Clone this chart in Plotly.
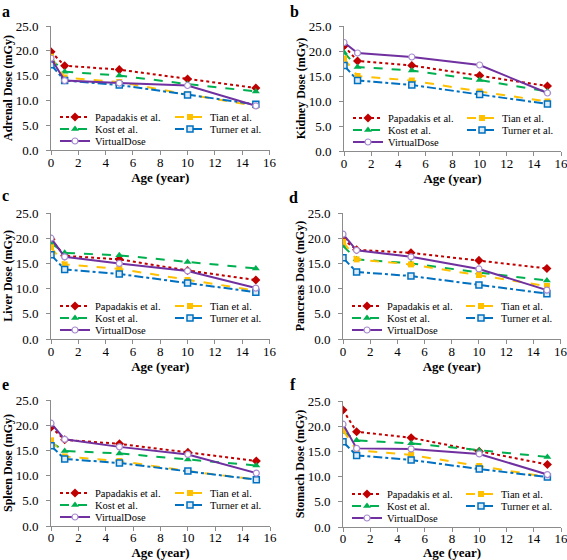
import plotly.graph_objects as go

ages = [0, 1, 5, 10, 15]

organs = ["Adrenal", "Kidney", "Liver", "Pancreas", "Spleen", "Stomach"]
panel_letters = ["a", "b", "c", "d", "e", "f"]

papadakis = {
    "Adrenal":  [19.8, 17.0, 16.2, 14.3, 12.5],
    "Kidney":   [21.0, 18.0, 17.1, 15.1, 13.0],
    "Liver":    [19.8, 16.5, 15.8, 13.6, 11.7],
    "Pancreas": [19.8, 17.7, 17.1, 15.6, 14.0],
    "Spleen":   [19.6, 17.1, 16.3, 14.6, 12.9],
    "Stomach":  [23.2, 18.9, 17.7, 15.0, 12.4],
}
kost = {
    "Adrenal":  [18.3, 15.8, 15.0, 13.3, 11.8],
    "Kidney":   [19.7, 16.8, 16.1, 14.2, 11.9],
    "Liver":    [19.0, 17.1, 16.6, 15.3, 14.0],
    "Pancreas": [18.5, 15.8, 15.0, 13.2, 11.6],
    "Spleen":   [16.6, 14.9, 14.4, 13.2, 12.0],
    "Stomach":  [18.9, 17.2, 16.6, 15.2, 13.9],
}
tian = {
    "Adrenal":  [18.8, 14.6, 13.7, 11.2, 8.9],
    "Kidney":   [18.5, 15.0, 14.1, 11.9, 9.9],
    "Liver":    [18.2, 14.8, 13.9, 11.7, 9.6],
    "Pancreas": [19.3, 15.8, 14.8, 12.7, 10.5],
    "Spleen":   [17.0, 13.8, 12.9, 10.9, 9.2],
    "Stomach":  [19.2, 15.2, 14.3, 12.1, 9.9],
}
turner = {
    "Adrenal":  [17.2, 14.0, 13.1, 11.1, 9.2],
    "Kidney":   [17.1, 14.1, 13.2, 11.3, 9.4],
    "Liver":    [16.7, 13.8, 12.9, 11.1, 9.3],
    "Pancreas": [16.1, 13.3, 12.5, 10.7, 9.0],
    "Spleen":   [15.9, 13.3, 12.5, 10.9, 9.2],
    "Stomach":  [16.9, 14.2, 13.3, 11.5, 9.9],
}
virtualdose = {
    "Adrenal":  [18.5, 14.0, 13.5, 13.0, 8.9],
    "Kidney":   [21.7, 19.6, 18.8, 17.2, 11.6],
    "Liver":    [20.0, 16.3, 15.0, 13.5, 10.1],
    "Pancreas": [20.8, 17.6, 16.3, 13.9, 9.7],
    "Spleen":   [20.4, 17.2, 15.7, 14.2, 10.5],
    "Stomach":  [20.4, 15.6, 15.5, 14.5, 10.4],
}

x_ticks = [0, 2, 4, 6, 8, 10, 12, 14, 16]
y_ticks = [0, 5, 10, 15, 20, 25]
y_tick_labels = ["0.0", "5.0", "10.0", "15.0", "20.0", "25.0"]

W, H = 567, 560
# pixel boxes of each plot area: (left, right, top, bottom)
boxes = [
    (51, 269.5, 26, 150),
    (344, 561, 26, 151),
    (51, 269.5, 213, 339),
    (343, 560.5, 213, 339),
    (51, 270, 400, 526),
    (343, 561, 401, 527),
]
# panel letter positions (left x, vertical centre y) in pixels
letter_pos = [(1, 11), (289, 11), (1, 195), (288, 197), (1, 384), (289, 384)]

SERIF = "Liberation Serif, Times New Roman, serif"

# name, data, line, marker, legend column, legend row
series = [
    ("Papadakis et al.", papadakis, dict(color="#C00000", dash="dot", width=2),
     dict(symbol="diamond", size=7, color="#C00000"), 0, 0),
    ("Kost et al.", kost, dict(color="#00B050", dash="dash", width=2),
     dict(symbol="triangle-up", size=7, color="#00B050"), 0, 1),
    ("Tian et al.", tian, dict(color="#FFC000", dash="dash", width=2),
     dict(symbol="square", size=6, color="#FFC000"), 1, 0),
    ("Turner et al.", turner, dict(color="#0070C0", dash="dashdot", width=2),
     dict(symbol="square", size=6, color="#DDEBF7", line=dict(color="#0070C0", width=1.5)), 1, 1),
    ("VirtualDose", virtualdose, dict(color="#7030A0", dash="solid", width=2),
     dict(symbol="circle", size=6, color="white", line=dict(color="#A88BD0", width=1.2)), 0, 2),
]
row_offsets = [33, 21, 9]      # px above plot bottom
col_offsets = [[4, 119], [4, 118]]  # px right of plot left (left / right column panels)

fig = go.Figure()
layout = dict(
    width=W, height=H, margin=dict(l=0, r=0, t=0, b=0, autoexpand=False),
    paper_bgcolor="white", plot_bgcolor="white", showlegend=True,
    font=dict(family=SERIF, color="black"),
    annotations=[],
)

leg_idx = 0
for i, organ in enumerate(organs):
    l, r, t, b = boxes[i]
    n = i + 1
    xa = "x" if n == 1 else f"x{n}"
    ya = "y" if n == 1 else f"y{n}"
    for name, data, line, marker, col, row in series:
        leg_idx += 1
        leg = "legend" if leg_idx == 1 else f"legend{leg_idx}"
        fig.add_trace(go.Scatter(
            x=ages, y=data[organ], name=name, mode="lines+markers",
            line=line, marker=marker, xaxis=xa, yaxis=ya, legend=leg,
        ))
        layout[leg] = dict(
            orientation="v", xanchor="left", yanchor="middle",
            x=(l + col_offsets[i % 2][col]) / W,
            y=1 - (b - row_offsets[row]) / H,
            bgcolor="rgba(0,0,0,0)", borderwidth=0,
            font=dict(family=SERIF, size=10.5, color="black"),
            itemclick=False, itemdoubleclick=False,
        )
    layout[f"xaxis{n if n > 1 else ''}"] = dict(
        domain=[l / W, r / W], anchor=ya, range=[0, 16], tickvals=x_ticks,
        showgrid=False, zeroline=False, showline=True, linecolor="#8c8c8c",
        linewidth=1, ticks="outside", ticklen=4, tickcolor="#8c8c8c",
        tickfont=dict(family=SERIF, size=13),
        ticklabelstandoff=-5 if i >= 4 else -4,
        ticklabeloverflow="allow",
        title=dict(text="<b>Age (year)</b>", font=dict(family=SERIF, size=13), standoff=0),
        automargin=False, fixedrange=True,
    )
    layout[f"yaxis{n if n > 1 else ''}"] = dict(
        domain=[1 - b / H, 1 - t / H], anchor=xa, range=[0, 25],
        tickvals=y_ticks, ticktext=y_tick_labels,
        showgrid=False, zeroline=False, showline=True, linecolor="#8c8c8c",
        linewidth=1, ticks="outside", ticklen=4, tickcolor="#8c8c8c",
        tickfont=dict(family=SERIF, size=13), ticklabelstandoff=5,
        ticklabeloverflow="allow",
        title=dict(text=f"<b>{organ} Dose (mGy)</b>", font=dict(family=SERIF, size=12), standoff=0),
        automargin=False, fixedrange=True,
    )
    lx, ly = letter_pos[i]
    layout["annotations"].append(dict(
        text=f"<b>{panel_letters[i]}</b>", xref="paper", yref="paper",
        x=lx / W, y=1 - ly / H, xanchor="left", yanchor="middle", showarrow=False,
        font=dict(family=SERIF, size=16, color="black"), borderpad=0,
    ))

fig.update_layout(**layout)
fig.write_html("out.html", config={"displayModeBar": False},
               post_script="document.body.style.margin='0';")
